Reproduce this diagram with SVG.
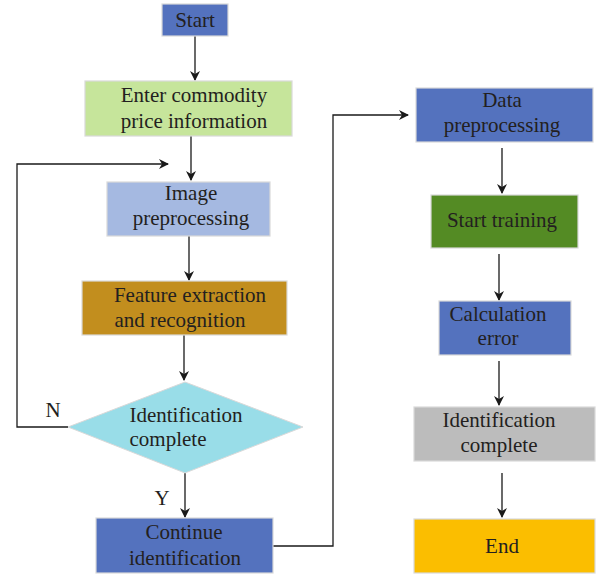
<svg xmlns="http://www.w3.org/2000/svg" width="601" height="576" viewBox="0 0 601 576">
<defs>
<marker id="arr" markerWidth="10" markerHeight="10" refX="9" refY="5" orient="auto" markerUnits="userSpaceOnUse">
<path d="M0,0 L10,5 L0,10 L3,5 Z" fill="#1a1a1a"/>
</marker>
<style>
.box{stroke:#d9d9d9;stroke-width:1.2}
.t{font-family:"Liberation Serif","Times New Roman",serif;font-size:21px;fill:#231f20;text-anchor:middle}
.c{fill:none;stroke:#1a1a1a;stroke-width:1.3}
</style>
</defs>
<rect width="601" height="576" fill="#ffffff"/>
<g id="connectors">
<line class="c" x1="195" y1="36" x2="195" y2="80" marker-end="url(#arr)"/>
<line class="c" x1="191" y1="136" x2="191" y2="180" marker-end="url(#arr)"/>
<polyline class="c" points="68,427 17,427 17,164 168,164" marker-end="url(#arr)"/>
<line class="c" x1="189" y1="236" x2="189" y2="280" marker-end="url(#arr)"/>
<line class="c" x1="184" y1="335" x2="184" y2="380" marker-end="url(#arr)"/>
<line class="c" x1="185" y1="473" x2="185" y2="517" marker-end="url(#arr)"/>
<polyline class="c" points="273,546 333,546 333,115 408,115" marker-end="url(#arr)"/>
<line class="c" x1="502" y1="148" x2="502" y2="193" marker-end="url(#arr)"/>
<line class="c" x1="499" y1="254" x2="499" y2="300" marker-end="url(#arr)"/>
<line class="c" x1="499" y1="361" x2="499" y2="405" marker-end="url(#arr)"/>
<line class="c" x1="502" y1="473" x2="502" y2="517" marker-end="url(#arr)"/>
</g>
<g id="start"><rect class="box" x="162" y="4" width="66" height="32" fill="#5472be"/><text class="t" x="195" y="27">Start</text></g>
<g id="enter"><rect class="box" x="85" y="81" width="207" height="55" fill="#c6e59b"/><text class="t" x="194" y="102">Enter commodity</text><text class="t" x="194" y="128">price information</text></g>
<g id="image"><rect class="box" x="107" y="182" width="163" height="54" fill="#a5b9e1"/><text class="t" x="191" y="200">Image</text><text class="t" x="191" y="225">preprocessing</text></g>
<g id="feature"><rect class="box" x="82" y="281" width="205" height="54" fill="#c28e1e"/><text class="t" x="190" y="302">Feature extraction</text><text class="t" x="180" y="327">and recognition</text></g>
<g id="decision"><polygon points="185,382 303,427 185,473 68,427" fill="#99dde8" stroke="#d9d9d9" stroke-width="1"/><text class="t" x="186" y="422">Identification</text><text class="t" x="168" y="446">complete</text></g>
<text class="t" x="53" y="417">N</text>
<text class="t" x="162" y="505">Y</text>
<g id="continue"><rect class="box" x="96" y="518" width="177" height="55" fill="#5472be"/><text class="t" x="184" y="539">Continue</text><text class="t" x="185" y="565">identification</text></g>
<g id="data"><rect class="box" x="416" y="88" width="177" height="54" fill="#5472be"/><text class="t" x="502" y="107">Data</text><text class="t" x="502" y="132">preprocessing</text></g>
<g id="training"><rect class="box" x="431" y="195" width="147" height="53" fill="#548b24"/><text class="t" x="502" y="227">Start training</text></g>
<g id="calc"><rect class="box" x="439" y="301" width="132" height="54" fill="#5472be"/><text class="t" x="498" y="321">Calculation</text><text class="t" x="498" y="345">error</text></g>
<g id="complete"><rect class="box" x="414" y="407" width="181" height="54" fill="#bcbcbc"/><text class="t" x="499" y="427">Identification</text><text class="t" x="499" y="452">complete</text></g>
<g id="end"><rect class="box" x="414" y="519" width="181" height="54" fill="#fbbe00"/><text class="t" x="502" y="553">End</text></g>
</svg>
